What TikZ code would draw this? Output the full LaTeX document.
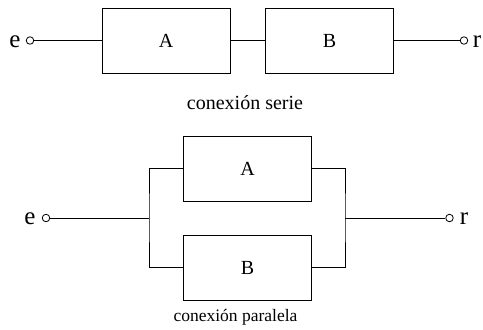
\documentclass[tikz,border=0pt]{standalone}
\usepackage{fontspec}
\setmainfont{Liberation Serif}
\begin{document}
\begin{tikzpicture}[x=1pt,y=-1pt,line width=0.8pt,
  blk/.style={draw, minimum width=128pt, minimum height=65pt, inner sep=0pt, font=\fontsize{20}{22}\selectfont},
  term/.style={circle, draw, minimum size=7.5pt, inner sep=0pt},
  lbl/.style={inner sep=0pt, anchor=base, font=\fontsize{25}{27}\selectfont},
  captxt/.style={inner sep=0pt, anchor=base, font=\fontsize{20}{22}\selectfont}]
\useasboundingbox (0,0) rectangle (483,330);
% series
\node[blk] (A1) at (166,40.5) {A};
\node[blk] (B1) at (329.5,40.5) {B};
\node[term] (e1) at (30,40.5) {};
\node[term] (r1) at (464,40.5) {};
\node[lbl] (le1) at (15,47) {e};
\node[lbl] (lr1) at (477,47) {r};
\draw (e1) -- (A1);
\draw (A1) -- (B1);
\draw (B1) -- (r1);
\node[captxt] (c1) at (245,109) {conexión serie};
% parallel
\node[blk] (A2) at (247.5,168.5) {A};
\node[blk] (B2) at (247.5,267.5) {B};
\node[term] (e2) at (46,218) {};
\node[term] (r2) at (449.5,218) {};
\node[lbl] (le2) at (30,224.5) {e};
\node[lbl] (lr2) at (464,224.5) {r};
\coordinate (jl) at (149,218);
\coordinate (jr) at (345,218);
\draw (e2) -- (jl);
\draw (A2.west) -| (jl) |- (B2.west);
\draw (A2.east) -| (jr) |- (B2.east);
\draw (jr) -- (r2);
\node[captxt, font=\fontsize{17.5}{20}\selectfont] (c2) at (235.5,321) {conexión paralela};
\end{tikzpicture}
\end{document}
